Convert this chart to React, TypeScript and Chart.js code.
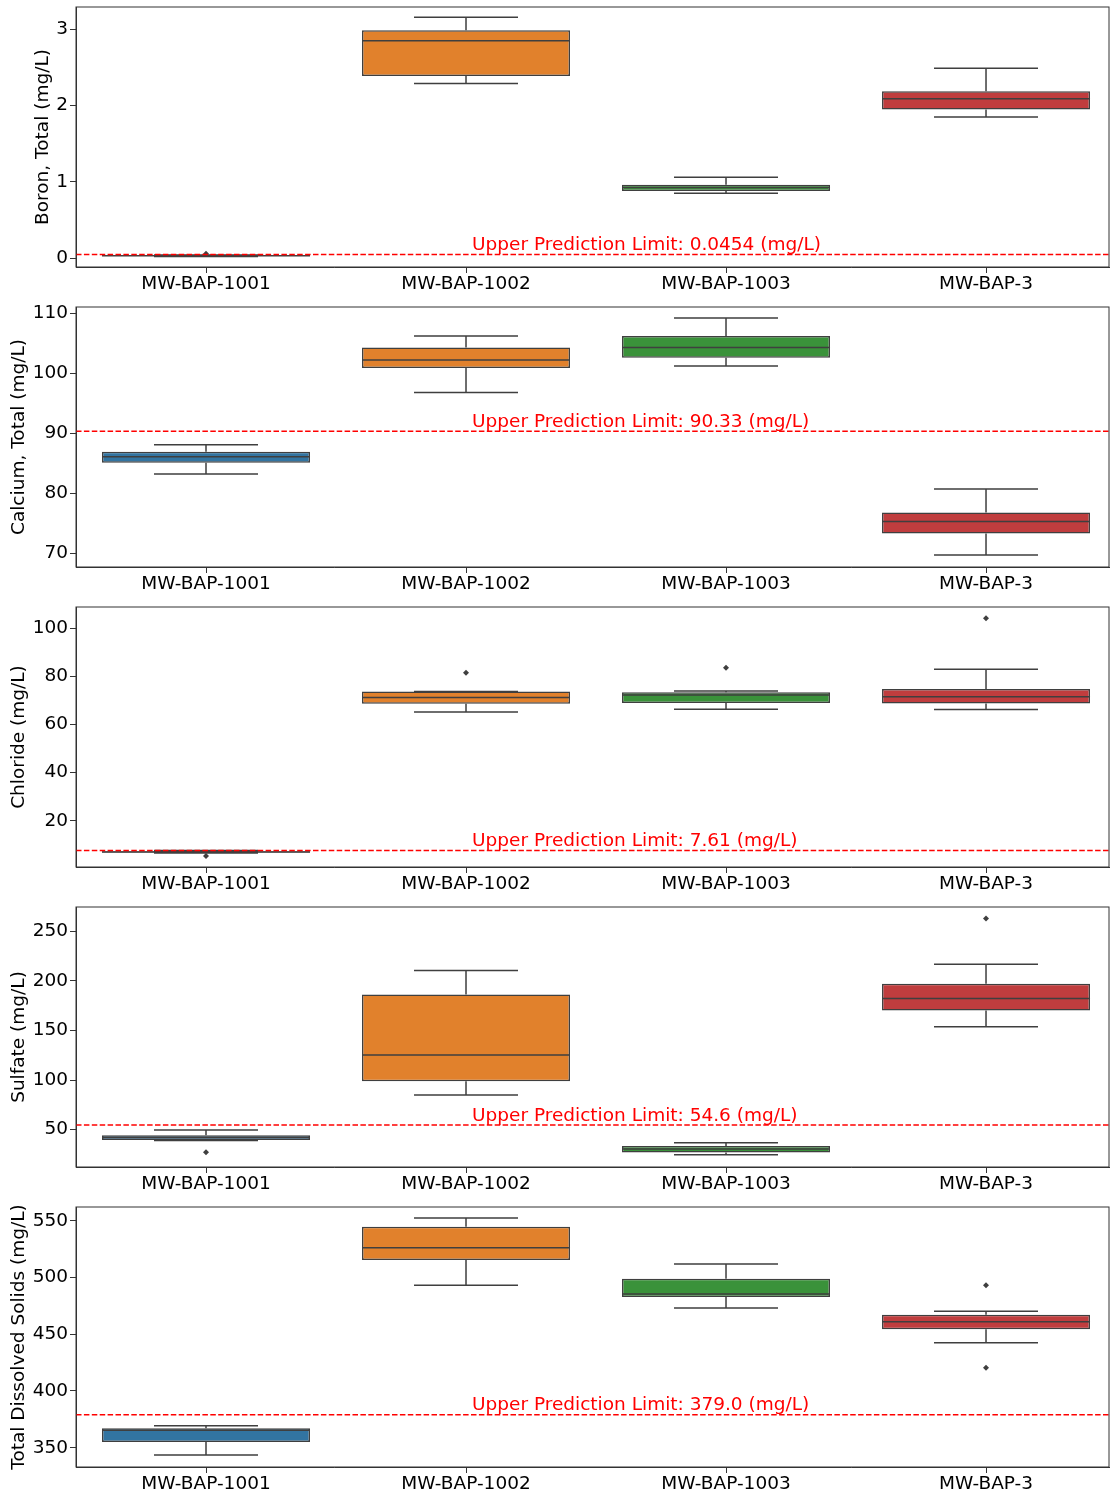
import React, { useEffect, useRef } from 'react';
import { Chart, registerables } from 'chart.js';

Chart.register(...registerables);

// ---------- data ----------
const wells = ['MW-BAP-1001', 'MW-BAP-1002', 'MW-BAP-1003', 'MW-BAP-3'];
const boxColors = ['#3274a1', '#e1812c', '#3a923a', '#c03d3e'];

// each entry: [lower whisker, Q1, median, Q3, upper whisker]
const boronStats = [
  [0.02, 0.025, 0.03, 0.035, 0.04],
  [2.29, 2.39, 2.85, 2.99, 3.16],
  [0.85, 0.88, 0.925, 0.96, 1.06],
  [1.85, 1.95, 2.09, 2.19, 2.49],
];
const boronOutliers = [[0.055], [], [], []];
const boronTicks = [0, 1, 2, 3];

const calciumStats = [
  [83.2, 85.1, 86.1, 86.9, 88.1],
  [96.8, 100.9, 102.2, 104.3, 106.2],
  [101.2, 102.6, 104.3, 106.2, 109.2],
  [69.7, 73.3, 75.3, 76.8, 80.7],
];
const calciumOutliers = [[], [], [], []];
const calciumTicks = [70, 80, 90, 100, 110];

const chlorideStats = [
  [6.6, 6.8, 7.0, 7.3, 7.6],
  [65.2, 68.7, 71.3, 73.8, 73.8],
  [66.4, 69.0, 72.3, 73.4, 74.0],
  [66.3, 68.8, 71.6, 74.8, 83.0],
];
const chlorideOutliers = [[5.3], [81.5], [83.6], [104.2]];
const chlorideTicks = [20, 40, 60, 80, 100];

const sulfateStats = [
  [39.0, 39.6, 42.0, 44.3, 49.6],
  [84.9, 98.7, 125.2, 186.3, 210.5],
  [24.5, 26.8, 30.5, 33.5, 36.6],
  [153.7, 170.2, 182.3, 197.0, 216.8],
];
const sulfateOutliers = [[27.2], [], [], [262.8]];
const sulfateTicks = [50, 100, 150, 200, 250];

const tdsStats = [
  [343.6, 355.0, 365.3, 367.1, 369.4],
  [493.1, 515.4, 526.2, 544.7, 552.4],
  [473.1, 482.8, 485.4, 498.9, 511.8],
  [442.5, 454.3, 461.0, 467.2, 470.2],
];
const tdsOutliers = [[], [], [], [493.1, 420.5]];
const tdsTicks = [350, 400, 450, 500, 550];

const panelTitles = [
  'Boron, Total (mg/L)',
  'Calcium, Total (mg/L)',
  'Chloride (mg/L)',
  'Sulfate (mg/L)',
  'Total Dissolved Solids (mg/L)',
];
const upperLimits = [0.0454, 90.33, 7.61, 54.6, 379.0];
const upperLimitLabels = ['0.0454', '90.33', '7.61', '54.6', '379.0'];
const yMins = [-0.118, 67.7, 0.75, 12.25, 333.0];
const yMaxs = [3.294, 111.05, 108.9, 274.5, 562.1];

const allStats = [boronStats, calciumStats, chlorideStats, sulfateStats, tdsStats];
const allOutliers = [boronOutliers, calciumOutliers, chlorideOutliers, sulfateOutliers, tdsOutliers];
const allTicks = [boronTicks, calciumTicks, chlorideTicks, sulfateTicks, tdsTicks];
const titlePads = [32, 7.7, 8, 7.7, 7.7];

// ---------- styles ----------
const FONT = 'DejaVu Sans';
const FONT_SIZE = 18.5;
const lineGray = '#3f3f3f';
const spineColor = '#333333';
const textColor = '#000000';
const W = 1113;
const H = 300;

function makeChart(canvas: HTMLCanvasElement, p: number) {
  const stats = allStats[p];
  const outliers = allOutliers[p];
  const upl = upperLimits[p];

  const boxPlugin = {
    id: 'boxExtras' + p,
    afterDatasetsDraw(chart: any) {
      const { ctx, chartArea } = chart;
      const xs = chart.scales.x;
      const ys = chart.scales.y;
      const unit = xs.getPixelForValue(1) - xs.getPixelForValue(0);
      const half = unit * 0.4;
      const cap = unit * 0.2;
      ctx.save();
      ctx.strokeStyle = lineGray;
      ctx.lineWidth = 1.5;
      stats.forEach((s, i) => {
        const cx = xs.getPixelForValue(i);
        const lo = ys.getPixelForValue(s[0]);
        const q1 = ys.getPixelForValue(s[1]);
        const med = ys.getPixelForValue(s[2]);
        const q3 = ys.getPixelForValue(s[3]);
        const hi = ys.getPixelForValue(s[4]);
        ctx.beginPath();
        ctx.moveTo(cx, q1);
        ctx.lineTo(cx, lo);
        ctx.moveTo(cx - cap, lo);
        ctx.lineTo(cx + cap, lo);
        ctx.moveTo(cx, q3);
        ctx.lineTo(cx, hi);
        ctx.moveTo(cx - cap, hi);
        ctx.lineTo(cx + cap, hi);
        ctx.moveTo(cx - half, med);
        ctx.lineTo(cx + half, med);
        ctx.stroke();
      });
      // upper prediction limit
      const yl = ys.getPixelForValue(upl);
      ctx.strokeStyle = '#ff0000';
      ctx.lineWidth = 1.5;
      ctx.setLineDash([5.5, 2.4]);
      ctx.beginPath();
      ctx.moveTo(chartArea.left, yl);
      ctx.lineTo(chartArea.right, yl);
      ctx.stroke();
      ctx.setLineDash([]);
      ctx.fillStyle = '#ff0000';
      ctx.font = `${FONT_SIZE}px "${FONT}"`;
      ctx.textAlign = 'left';
      ctx.textBaseline = 'alphabetic';
      ctx.fillText(
        `Upper Prediction Limit: ${upperLimitLabels[p]} (mg/L)`,
        xs.getPixelForValue(1) + 6,
        yl - 4.5
      );
      // frame
      ctx.strokeStyle = spineColor;
      ctx.lineWidth = 1;
      ctx.strokeRect(chartArea.left, chartArea.top, chartArea.right - chartArea.left, chartArea.bottom - chartArea.top);
      ctx.restore();
    },
  };

  const outlierPoints: { x: number; y: number }[] = [];
  outliers.forEach((arr, i) => arr.forEach((v) => outlierPoints.push({ x: i, y: v })));

  return new Chart(canvas, {
    type: 'bar',
    data: {
      datasets: [
        {
          type: 'bar',
          data: stats.map((s, i) => ({ x: i, y: [s[1], s[3]] })) as any,
          backgroundColor: boxColors,
          borderColor: lineGray,
          borderWidth: 1.5,
          borderSkipped: false,
          barPercentage: 0.8,
          categoryPercentage: 1,
          order: 2,
        } as any,
        {
          type: 'scatter',
          data: outlierPoints,
          pointStyle: 'rectRot',
          pointRadius: 3,
          pointBackgroundColor: lineGray,
          pointBorderColor: lineGray,
          pointBorderWidth: 0,
          order: 1,
        } as any,
      ],
    },
    options: {
      responsive: false,
      animation: false,
      events: [],
      devicePixelRatio: 1,
      layout: { padding: { top: 7, right: 4, left: 0, bottom: 0 } },
      plugins: { legend: { display: false }, tooltip: { enabled: false } },
      scales: {
        x: {
          type: 'linear',
          offset: false,
          min: -0.5,
          max: 3.473,
          afterBuildTicks: (s: any) => {
            s.ticks = wells.map((_, i) => ({ value: i }));
          },
          afterFit: (s: any) => {
            s.height = 33;
            s.paddingLeft = 0;
            s.paddingRight = 0;
          },
          ticks: {
            callback: (v: any) => wells[v as number] ?? '',
            font: { family: FONT, size: FONT_SIZE },
            color: textColor,
            padding: 0,
            autoSkip: false,
            maxRotation: 0,
          },
          grid: { offset: false, drawOnChartArea: false, drawTicks: true, tickLength: 6, color: spineColor, lineWidth: 1 },
          border: { display: true, color: spineColor, width: 1 },
        },
        y: {
          type: 'linear',
          min: yMins[p],
          max: yMaxs[p],
          afterBuildTicks: (s: any) => {
            s.ticks = allTicks[p].map((v) => ({ value: v }));
          },
          afterFit: (s: any) => {
            s.width = 76;
            s.paddingTop = 0;
            s.paddingBottom = 0;
          },
          ticks: {
            font: { family: FONT, size: FONT_SIZE },
            color: textColor,
            padding: 2,
            callback: (v: any) => String(v),
          },
          grid: { drawOnChartArea: false, drawTicks: true, tickLength: 6, color: spineColor, lineWidth: 1 },
          border: { display: true, color: spineColor, width: 1 },
          title: {
            display: true,
            text: panelTitles[p],
            font: { family: FONT, size: FONT_SIZE },
            color: textColor,
            padding: { top: titlePads[p], bottom: 0 },
          },
        },
      },
    },
    plugins: [boxPlugin],
  } as any);
}

export default function App() {
  const refs = useRef<(HTMLCanvasElement | null)[]>([]);

  useEffect(() => {
    const charts = refs.current.map((c, p) => (c ? makeChart(c, p) : null));
    return () => {
      charts.forEach((ch) => ch && ch.destroy());
    };
  }, []);

  return (
    <div
      style={{
        position: 'absolute',
        left: 0,
        top: 0,
        width: W,
        height: 1496,
        overflow: 'hidden',
        background: '#ffffff',
      }}
    >
      {panelTitles.map((t, p) => (
        <canvas
          key={t}
          ref={(el) => {
            refs.current[p] = el;
          }}
          width={W}
          height={H}
          style={{ display: 'block', width: W, height: H }}
        />
      ))}
    </div>
  );
}
